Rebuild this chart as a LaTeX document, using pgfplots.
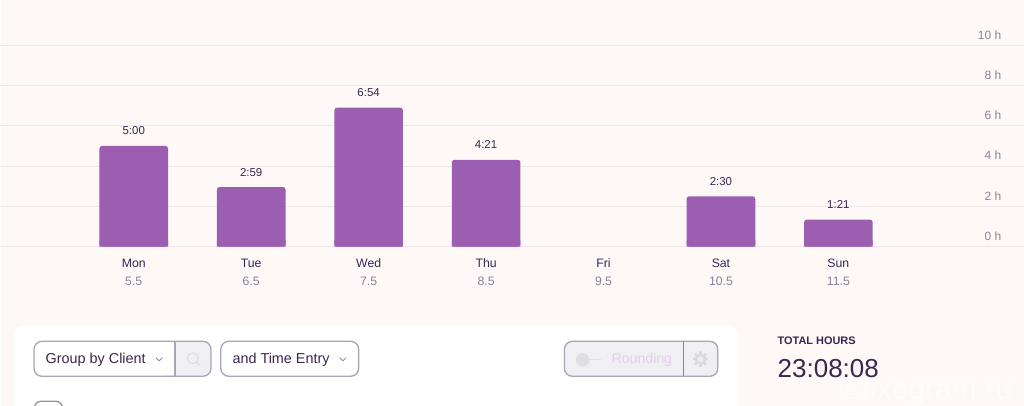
\documentclass[border=0pt]{standalone}
\usepackage{pgfplots}
\pgfplotsset{compat=1.18}
\usetikzlibrary{calc}
\usepackage{fontspec}
\setmainfont{Liberation Sans}
\definecolor{bgc}{HTML}{FEF9F7}
\definecolor{gridc}{HTML}{EEE7EC}
\definecolor{barc}{HTML}{9B5EB0}
\definecolor{dark}{HTML}{3A2650}
\definecolor{mute}{HTML}{8F7F98}
\definecolor{edge}{HTML}{AFA3B8}
\definecolor{seg}{HTML}{F0EFF3}
\definecolor{rnd}{HTML}{E3CFEA}
\begin{document}
\begin{tikzpicture}
\begin{scope}[x=0.75pt,y=-0.75pt]
\path[use as bounding box,fill=bgc] (0,0) rectangle (1024,406);
\fill[white,rounded corners=6pt] (14,326) rectangle (738,430);
\end{scope}
\begin{axis}[
  at={(0pt,-185.025pt)},anchor=south west,
  scale only axis,width=768pt,height=185.025pt,
  xmin=4.3652,xmax=13.0763,ymin=0,ymax=12.243,
  axis line style={draw=none},
  major tick length=0pt,
  clip=false,
  ymajorgrids,
  grid style={gridc,line width=0.75pt},
  ytick={0,2,4,6,8,10},
  yticklabels={0 h,2 h,4 h,6 h,8 h,10 h},
  yticklabel style={anchor=east,xshift=751.5pt+3.33pt,yshift=7.9pt,font=\fontsize{9}{10}\selectfont,text=mute},
  xtick={5.5,6.5,7.5,8.5,9.5,10.5,11.5},
  xticklabels={Mon,Tue,Wed,Thu,Fri,Sat,Sun},
  xticklabel style={font=\fontsize{9.2}{10}\selectfont,text=dark,anchor=base,yshift=-15.7pt},
  extra x ticks={5.5,6.5,7.5,8.5,9.5,10.5,11.5},
  extra x tick labels={5.5,6.5,7.5,8.5,9.5,10.5,11.5},
  extra x tick style={xticklabel style={font=\fontsize{9.2}{10}\selectfont,text=mute,anchor=base,yshift=-13.55pt}},
  ybar,
  bar width=51.5pt,
  nodes near coords style={font=\fontsize{8.6}{10}\selectfont,text=dark,anchor=south,yshift=4.6pt},
]
\addplot[bar shift=0pt,fill=barc,draw=none,rounded corners=2pt,
  point meta=explicit symbolic,nodes near coords]
  coordinates {(5.5,5.0)[5:00] (6.5,2.96)[2:59] (7.5,6.9)[6:54] (8.5,4.31)[4:21] (10.5,2.5)[2:30] (11.5,1.34)[1:21]};
\addplot[bar shift=0pt,fill=barc,draw=none]
  coordinates {(5.5,0.3) (6.5,0.3) (7.5,0.3) (8.5,0.3) (10.5,0.3) (11.5,0.3)};
\addplot[bar shift=0pt,fill=none,draw=gridc,line width=0.75pt] coordinates {(9.5,0)};
\end{axis}
\begin{scope}[x=0.75pt,y=-0.75pt]
% Group by Client
\fill[seg,rounded corners=6pt] (160,341.5) -- (205,341.5) -- (210.7,341.5) -- (210.7,376.5) -- (160,376.5) -- cycle;
\fill[white] (34,342.5) rectangle (174.7,375.5);
\draw[edge,line width=1pt,rounded corners=6pt] (33.5,341.5) rectangle (210.7,376.5);
\draw[edge,line width=0.8pt] (174.7,341.5) -- (174.7,376.5);
\node[anchor=west,inner sep=0pt,text=dark,font=\fontsize{10.8}{12}\selectfont] at (45,360) {Group by Client};
\draw[mute,line width=0.6pt] (155.5,358) -- (158.8,361) -- (162,358);
\draw[gray!25,line width=0.9pt] (192.5,358.5) circle (5.5);
\draw[gray!25,line width=1pt] (196.5,362.5) -- (200,366);
% and Time Entry
\draw[edge,line width=1pt,rounded corners=6pt,fill=white] (220.5,341.5) rectangle (358.5,376.5);
\node[anchor=west,inner sep=0pt,text=dark,font=\fontsize{10.8}{12}\selectfont] at (232,360) {and Time Entry};
\draw[mute,line width=0.6pt] (339.5,358) -- (342.7,361) -- (346,358);
% small box
\begin{scope}
\clip (0,0) rectangle (1024,406);
\draw[gray!40!edge,line width=1pt,rounded corners=5pt,fill=white] (34,401.5) rectangle (62,420);
\end{scope}
% Rounding
\draw[edge,line width=1pt,rounded corners=6pt,fill=seg] (564.5,341.5) rectangle (718,376.5);
\draw[mute,line width=0.7pt] (683.5,341.5) -- (683.5,376.5);
\fill[gray!25] (582.7,360) circle (6.8);
\draw[gray!25,line width=0.9pt] (582.7,359.5) -- (601,359.5);
\node[anchor=center,inner sep=0pt,text=rnd,font=\fontsize{10.6}{12}\selectfont] at (642,360) {Rounding};
\draw[gray!28,line width=2.2pt] (700.7,359.5) circle (4.5);
\foreach \a in {0,45,...,315} \draw[gray!28,line width=1.8pt] ($(700.7,359.5)+(\a:5.5)$) -- ($(700.7,359.5)+(\a:7.8)$);
% totals
\node[anchor=west,inner sep=0pt,text=white,opacity=0.8,font=\fontsize{22.5}{24}\selectfont] at (840,391.5) {©fixogram.ru};
\node[anchor=west,inner sep=0pt,text=dark,font=\fontsize{8.2}{9}\bfseries\selectfont] at (777.7,341) {TOTAL HOURS};
\node[anchor=west,inner sep=0pt,text=dark,font=\fontsize{19.5}{20}\selectfont] at (777.7,368.5) {23:08:08};
\end{scope}
\end{tikzpicture}
\end{document}
